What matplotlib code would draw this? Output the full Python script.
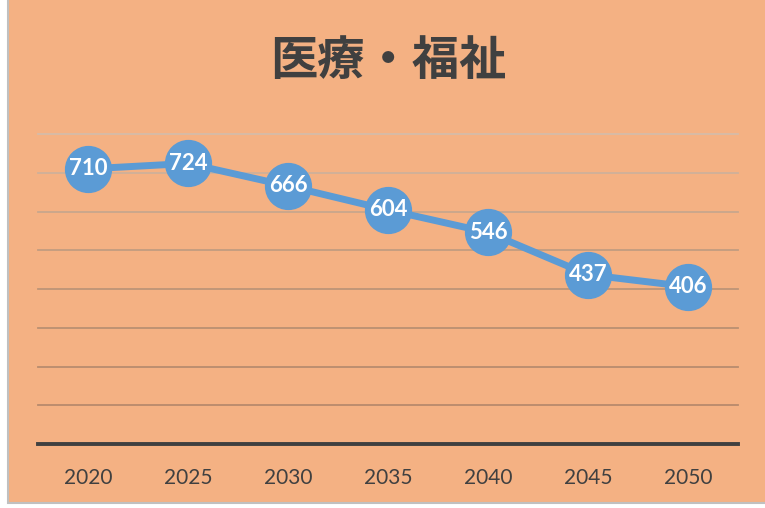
import matplotlib.pyplot as plt
from matplotlib.patches import Rectangle

years = ['2020', '2025', '2030', '2035', '2040', '2045', '2050']
values = [710, 724, 666, 604, 546, 437, 406]
grid_levels = [100, 200, 300, 400, 500, 600, 700, 800]
title = '医療・福祉'

bg = '#F4B183'
blue = '#5B9BD5'
dark = '#404040'
grid_colors = ['#B88A6C', '#B88C6E', '#BA9072', '#BD9577', '#C29C80', '#C8A68C', '#CFB09A', '#D6BBA8']


def main():
  plt.rcParams['font.family'] = ['Lato', 'Noto Sans CJK JP', 'DejaVu Sans']

  fig = plt.figure(figsize=(7.65, 5.08), dpi=100)
  fig.patch.set_facecolor('white')
  frame = Rectangle((8 / 765, 5 / 508), 1.0, 1.0, transform=fig.transFigure,
                    facecolor=bg, edgecolor='#C0C0C0', linewidth=1.5, zorder=-5)
  fig.add_artist(frame)

  ax = fig.add_axes([38 / 765, (508 - 444) / 508, 700 / 765, 310 / 508])
  ax.set_facecolor('none')
  ax.set_zorder(2)
  x = list(range(len(years)))

  for lvl, c in zip(grid_levels, grid_colors):
    ax.axhline(lvl, color=c, linewidth=1.3, zorder=1, clip_on=False)
  ax.axhline(0, color=dark, linewidth=2.8, zorder=2, clip_on=False)

  ax.plot(x, values, color=blue, linewidth=5, marker='o', markersize=33,
          markerfacecolor=blue, markeredgecolor=blue, zorder=3)
  for xi, v in zip(x, values):
    ax.text(xi, v, str(v), ha='center', va='center', color='white',
            fontsize=16, fontweight='bold', zorder=4)

  ax.set_xlim(-0.5, len(years) - 0.5)
  ax.set_ylim(0, 800)
  ax.set_xticks(x)
  ax.set_xticklabels(years, fontsize=15, color=dark)
  ax.tick_params(axis='x', length=0, pad=17.5)
  ax.set_yticks([])
  for s in ax.spines.values():
    s.set_visible(False)

  fig.text(388 / 765, 1 - 61 / 508, title, ha='center', va='center', fontsize=34,
           fontweight='bold', color=dark, family=['Noto Sans CJK JP', 'DejaVu Sans'])

  fig.savefig('out.png', dpi=100)


if __name__ == '__main__':
  main()
